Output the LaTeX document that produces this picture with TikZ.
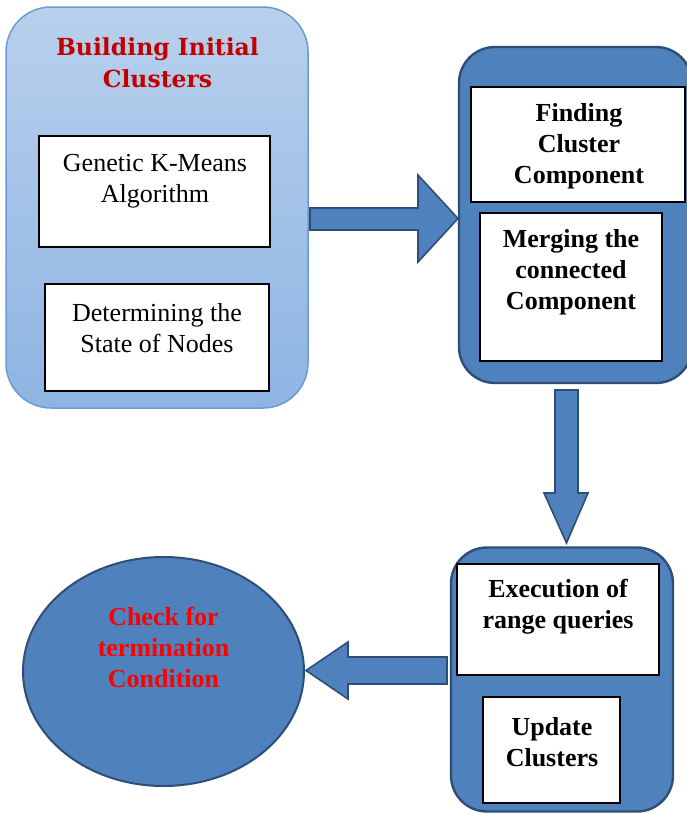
\documentclass[tikz,border=0pt]{standalone}
\usepackage{fontspec}
\setmainfont{Liberation Serif}
\newfontfamily\titlefont{DejaVu Serif}
\usetikzlibrary{shapes.geometric}
\definecolor{lightA}{HTML}{B8D0EC}
\definecolor{lightB}{HTML}{8EB4E3}
\definecolor{lightedge}{HTML}{6C9AD2}
\definecolor{midblue}{HTML}{4F81BD}
\definecolor{darkedge}{HTML}{2E4E76}
\definecolor{titlered}{HTML}{C00000}
\begin{document}
\begin{tikzpicture}[x=1pt,y=-1pt,
  every node/.style={inner sep=0pt, outer sep=0pt},
  innerbox/.style={draw=black, line width=2.5pt, fill=white},
  body/.style={font=\fontsize{26}{31}\selectfont, align=center},
  bbody/.style={font=\fontsize{26}{31}\selectfont\bfseries, align=center},
  blockarrow/.style={fill=midblue, draw=darkedge, line width=1.6pt, line join=miter},
  panel/.style={fill=midblue, draw=darkedge, line width=2.4pt, rounded corners=36pt}]
\useasboundingbox (0,0) rectangle (686,814);

% left panel
\node[draw=lightedge, line width=1.5pt, top color=lightA, bottom color=lightB,
      rounded corners=45pt, minimum width=302pt, minimum height=401pt] (build) at (157,207.5) {};
\node[font=\titlefont\fontsize{23.5}{32}\selectfont\bfseries, text=titlered, align=center]
  (buildt) at (157.5,63) {Building Initial\\Clusters};
\node[innerbox, minimum width=231pt, minimum height=111pt] (gen) at (154.5,191.5) {};
\node[body] (gent) at (155,181) {Genetic K-Means\\Algorithm};
\node[innerbox, minimum width=224pt, minimum height=107pt] (det) at (157,337.5) {};
\node[body] (dett) at (157,328) {Determining the\\State of Nodes};

% right panel
\node[panel, minimum width=233pt, minimum height=336pt] (p1) at (575.5,215) {};
\node[innerbox, minimum width=214pt, minimum height=115pt] (find) at (578,144.5) {};
\node[bbody] (findt) at (579,146) {Finding\\Cluster\\Component};
\node[innerbox, minimum width=182pt, minimum height=148pt] (merge) at (571,287) {};
\node[bbody] (merget) at (571,272) {Merging the\\connected\\Component};

% bottom right panel
\node[panel, minimum width=222pt, minimum height=264pt] (p2) at (562,679.5) {};
\node[innerbox, minimum width=202pt, minimum height=111pt] (exec) at (558,619.5) {};
\node[bbody] (exect) at (558,607) {Execution of\\range queries};
\node[innerbox, minimum width=137pt, minimum height=106pt] (upd) at (551.5,750) {};
\node[bbody] (updt) at (552,742) {Update\\Clusters};

% ellipse
\node[ellipse, fill=midblue, draw=darkedge, line width=2pt,
      minimum width=281pt, minimum height=229pt] (check) at (163.5,671.5) {};
\node[bbody, text=red] (checkt) at (163.5,647) {Check for\\termination\\Condition};

% block arrows
\draw[blockarrow] (310,208) -- (418,208) -- (418,175) -- (458,218.5) -- (418,262)
  -- (418,230) -- (310,230) -- cycle;
\draw[blockarrow] (555,390) -- (578,390) -- (578,493) -- (588,493) -- (566.5,543)
  -- (544,493) -- (555,493) -- cycle;
\draw[blockarrow] (447,657) -- (348,657) -- (348,642) -- (306,670.5) -- (348,699)
  -- (348,684) -- (447,684) -- cycle;
\end{tikzpicture}
\end{document}
